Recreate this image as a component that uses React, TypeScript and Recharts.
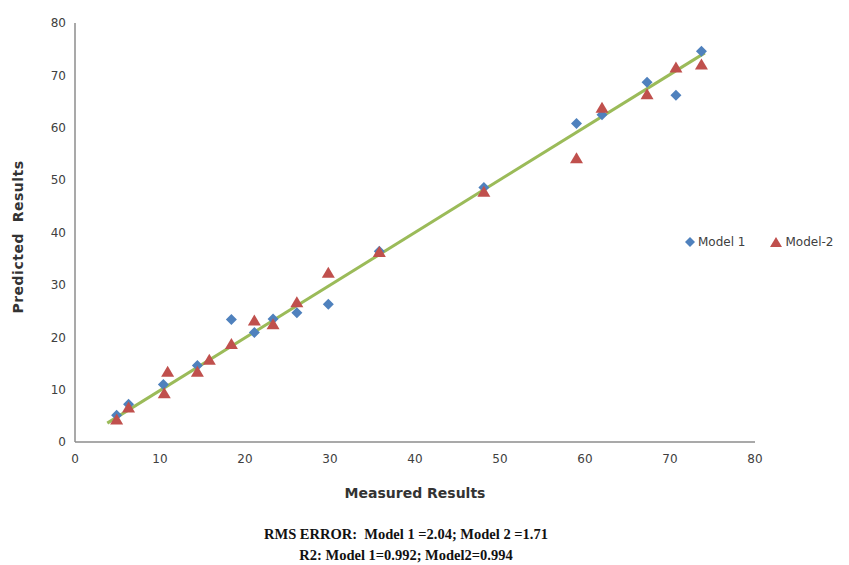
import React from "react";
import { ScatterChart, Scatter, XAxis, YAxis } from "recharts";

const model1 = [
  { x: 4.9, y: 5.1 },
  { x: 6.3, y: 7.2 },
  { x: 10.4, y: 11.0 },
  { x: 14.4, y: 14.6 },
  { x: 18.4, y: 23.4 },
  { x: 21.1, y: 20.9 },
  { x: 23.3, y: 23.5 },
  { x: 26.1, y: 24.7 },
  { x: 29.8, y: 26.3 },
  { x: 35.8, y: 36.4 },
  { x: 48.1, y: 48.6 },
  { x: 59.0, y: 60.8 },
  { x: 62.0, y: 62.5 },
  { x: 67.3, y: 68.7 },
  { x: 70.7, y: 66.2 },
  { x: 73.7, y: 74.6 },
];

const model2 = [
  { x: 4.9, y: 4.3 },
  { x: 6.3, y: 6.6 },
  { x: 10.5, y: 9.3 },
  { x: 10.9, y: 13.4 },
  { x: 14.4, y: 13.4 },
  { x: 15.8, y: 15.7 },
  { x: 18.4, y: 18.7 },
  { x: 21.1, y: 23.2 },
  { x: 23.3, y: 22.5 },
  { x: 26.1, y: 26.7 },
  { x: 29.8, y: 32.3 },
  { x: 35.8, y: 36.3 },
  { x: 48.1, y: 47.8 },
  { x: 59.0, y: 54.2 },
  { x: 62.0, y: 63.8 },
  { x: 67.3, y: 66.4 },
  { x: 70.7, y: 71.5 },
  { x: 73.7, y: 72.1 },
];

const fitLine = [
  { x: 3.8, y: 3.6 },
  { x: 74.1, y: 74.3 },
];

const xTicks = [0, 10, 20, 30, 40, 50, 60, 70, 80];
const yTicks = [0, 10, 20, 30, 40, 50, 60, 70, 80];

const BLUE = "#4F81BD";
const RED = "#C0504D";
const GREEN = "#9BBB59";
const AXIS = "#8c8c8c";
const TEXT = "#404040";

const Diamond = (props: any) => {
  const { cx, cy } = props;
  const r = 5.5;
  return (
    <polygon
      points={`${cx},${cy - r} ${cx + r},${cy} ${cx},${cy + r} ${cx - r},${cy}`}
      fill={BLUE}
    />
  );
};

const Triangle = (props: any) => {
  const { cx, cy } = props;
  return (
    <polygon
      points={`${cx},${cy - 6} ${cx + 6.5},${cy + 5} ${cx - 6.5},${cy + 5}`}
      fill={RED}
    />
  );
};

const NoDot = () => <g />;

export default function App() {
  const tickStyle = { fontSize: 12, fill: TEXT, fontFamily: "DejaVu Sans" };
  return (
    <div
      style={{
        position: "absolute",
        left: 0,
        top: 0,
        width: 849,
        height: 565,
        background: "#fff",
        fontFamily: "DejaVu Sans",
      }}
    >
      <ScatterChart
        width={849}
        height={565}
        margin={{ top: 23, right: 94, bottom: 93, left: 35 }}
      >
        <XAxis
          type="number"
          dataKey="x"
          domain={[0, 80]}
          ticks={xTicks}
          tickLine={false}
          tickSize={0}
          tickMargin={12}
          height={30}
          axisLine={{ stroke: AXIS, strokeWidth: 1.5 }}
          tick={tickStyle}
        />
        <YAxis
          type="number"
          dataKey="y"
          domain={[0, 80]}
          ticks={yTicks}
          tickLine={false}
          tickSize={0}
          tickMargin={9}
          width={40}
          axisLine={{ stroke: AXIS, strokeWidth: 1.5 }}
          tick={tickStyle}
        />
        <Scatter
          data={fitLine}
          line={{ stroke: GREEN, strokeWidth: 3 }}
          shape={NoDot}
          isAnimationActive={false}
        />
        <Scatter
          data={model1}
          shape={Diamond}
          isAnimationActive={false}
        />
        <Scatter
          data={model2}
          shape={Triangle}
          isAnimationActive={false}
        />
      </ScatterChart>

      {/* axis titles */}
      <div
        style={{
          position: "absolute",
          left: 18,
          top: 237,
          transform: "translate(-50%, -50%) rotate(-90deg)",
          whiteSpace: "pre",
          fontSize: 14,
          letterSpacing: 0.5,
          fontWeight: "bold",
          color: "#333",
        }}
      >
        {"Predicted  Results"}
      </div>
      <div
        style={{
          position: "absolute",
          left: 415,
          top: 493,
          transform: "translate(-50%, -50%)",
          whiteSpace: "pre",
          fontSize: 14,
          fontWeight: "bold",
          color: "#333",
        }}
      >
        Measured Results
      </div>

      {/* legend */}
      <div
        style={{
          position: "absolute",
          left: 684,
          top: 235,
          display: "flex",
          alignItems: "center",
          fontSize: 12,
          color: TEXT,
          whiteSpace: "pre",
        }}
      >
        <svg width={12} height={12}>
          <polygon points="6,1 11,6 6,11 1,6" fill={BLUE} />
        </svg>
        <span style={{ marginLeft: 2 }}>Model 1</span>
        <svg width={14} height={12} style={{ marginLeft: 24 }}>
          <polygon points="7,1 13,11 1,11" fill={RED} />
        </svg>
        <span style={{ marginLeft: 2 }}>Model-2</span>
      </div>

      {/* footnote */}
      <div
        style={{
          position: "absolute",
          left: 0,
          width: 812,
          top: 524,
          textAlign: "center",
          fontFamily: "Liberation Serif",
          fontWeight: "bold",
          fontSize: 14.5,
          lineHeight: "21px",
          color: "#111",
          whiteSpace: "pre",
        }}
      >
        <div>{"RMS ERROR:  Model 1 =2.04; Model 2 =1.71"}</div>
        <div>{"R2: Model 1=0.992; Model2=0.994"}</div>
      </div>
    </div>
  );
}
